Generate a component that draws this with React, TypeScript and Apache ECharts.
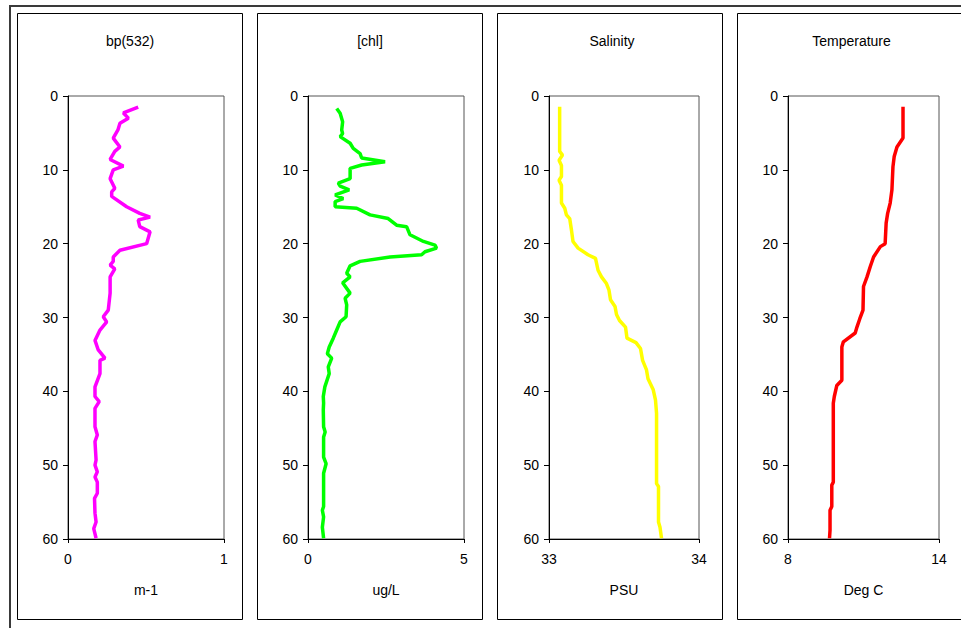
import React, { useEffect, useRef } from "react";
import * as echarts from "echarts";

// ---- data (value, depth in m) ----
const panelTitles = ["bp(532)", "[chl]", "Salinity", "Temperature"];
const unitNames = ["m-1", "ug/L", "PSU", "Deg C"];
const xMins = [0, 0, 33, 8];
const xMaxs = [1, 5, 34, 14];
const depthMin = 0;
const depthMax = 60;
const depthStep = 10;

const bpProfile = [
  [0.45, 1.5], [0.355, 2.3], [0.387, 3.0], [0.333, 3.7], [0.32, 4.6], [0.29, 5.7],
  [0.333, 6.9], [0.3, 7.5], [0.27, 8.6], [0.355, 9.5], [0.29, 10.0], [0.27, 11.2],
  [0.3, 12.5], [0.28, 13.0], [0.28, 13.6], [0.376, 15.0], [0.46, 15.9], [0.526, 16.4],
  [0.45, 16.8], [0.46, 17.7], [0.526, 18.4], [0.504, 20.0], [0.333, 20.9], [0.29, 21.8],
  [0.29, 22.4], [0.27, 22.9], [0.3, 23.4], [0.27, 24.5], [0.27, 26.7], [0.258, 29.0],
  [0.226, 29.9], [0.248, 30.6], [0.205, 31.7], [0.173, 33.1], [0.194, 34.4], [0.237, 35.5],
  [0.205, 35.8], [0.205, 37.6], [0.173, 39.4], [0.173, 40.7], [0.2, 41.4], [0.173, 42.3],
  [0.173, 44.8], [0.188, 45.9], [0.173, 46.8], [0.18, 49.3], [0.173, 50.0], [0.188, 50.9],
  [0.173, 51.6], [0.188, 52.3], [0.188, 53.8], [0.17, 54.5], [0.173, 56.5], [0.18, 57.7],
  [0.165, 58.6], [0.18, 59.9],
];

const chlProfile = [
  [0.92, 1.7], [1.03, 2.35], [1.11, 3.5], [1.08, 4.6], [1.11, 5.1], [1.03, 5.5],
  [1.35, 6.4], [1.45, 7.1], [1.67, 7.8], [1.72, 8.4], [2.47, 8.9], [1.72, 9.35],
  [1.35, 9.8], [1.35, 11.2], [0.97, 11.8], [1.03, 12.2], [1.32, 12.7], [0.87, 13.4],
  [1.13, 13.9], [0.87, 14.3], [0.87, 15.0], [1.56, 15.2], [1.99, 16.1], [2.57, 16.6],
  [2.84, 17.5], [3.16, 17.7], [3.27, 18.8], [3.7, 19.7], [4.07, 20.2], [4.12, 20.6],
  [3.75, 21.1], [3.64, 21.5], [2.63, 21.8], [1.67, 22.4], [1.35, 23.0], [1.24, 24.0],
  [1.35, 24.5], [1.11, 25.3], [1.35, 26.7], [1.19, 27.4], [1.24, 28.3], [1.22, 29.9],
  [1.03, 30.6], [0.92, 31.7], [0.81, 32.8], [0.68, 34.0], [0.62, 34.9], [0.76, 35.5],
  [0.65, 36.7], [0.68, 37.6], [0.54, 39.4], [0.49, 40.7], [0.5, 41.6], [0.49, 42.5],
  [0.5, 44.8], [0.55, 45.5], [0.5, 46.2], [0.5, 48.9], [0.58, 49.8], [0.5, 51.1],
  [0.5, 55.6], [0.46, 56.1], [0.5, 57.0], [0.46, 58.4], [0.5, 59.9],
];

const salinityProfile = [
  [33.071, 1.45], [33.071, 7.5], [33.09, 8.0], [33.067, 8.7], [33.083, 9.4], [33.083, 10.9],
  [33.067, 11.4], [33.083, 12.1], [33.083, 14.5], [33.105, 15.2], [33.116, 16.1], [33.138, 16.6],
  [33.15, 18.2], [33.16, 19.7], [33.194, 20.6], [33.26, 21.5], [33.31, 22.0], [33.327, 23.6],
  [33.35, 24.5], [33.383, 25.4], [33.4, 26.3], [33.41, 27.6], [33.44, 28.5], [33.45, 29.6],
  [33.47, 30.4], [33.51, 31.3], [33.52, 32.8], [33.58, 33.4], [33.61, 34.2], [33.624, 35.8],
  [33.65, 37.1], [33.66, 38.3], [33.695, 39.8], [33.71, 41.2], [33.717, 43.0], [33.717, 52.5],
  [33.73, 52.9], [33.73, 57.7], [33.74, 58.4], [33.75, 59.9],
];

const temperatureProfile = [
  [12.57, 1.45], [12.57, 5.7], [12.33, 6.9], [12.22, 8.2], [12.17, 9.6], [12.13, 12.7],
  [12.06, 14.5], [11.96, 15.9], [11.9, 17.2], [11.86, 20.0], [11.67, 20.4], [11.4, 21.8],
  [11.27, 23.1], [11.14, 24.5], [11.0, 25.8], [10.98, 29.0], [10.85, 30.2], [10.74, 31.3],
  [10.67, 32.1], [10.2, 33.3], [10.14, 34.0], [10.14, 38.5], [9.94, 39.2], [9.84, 40.7],
  [9.8, 41.6], [9.8, 52.3], [9.74, 52.7], [9.74, 55.6], [9.67, 56.1], [9.67, 58.8],
  [9.65, 59.9],
];

const profiles = [bpProfile, chlProfile, salinityProfile, temperatureProfile];

// ---- layout & styles ----
const FONT = "'Liberation Sans', Arial, sans-serif";
const lineColors = ["#FF00FF", "#00FF00", "#FFFF00", "#FF0000"];
const panelBoxes = [
  { x: 17.5, w: 225 },
  { x: 257.5, w: 225 },
  { x: 497.5, w: 225 },
  { x: 737.5, w: 226 },
];
const plotBoxes = [
  { left: 68, width: 156 },
  { left: 308, width: 156 },
  { left: 549, width: 150 },
  { left: 788, width: 151 },
];
const PLOT_TOP = 96;
const PLOT_H = 443;

export default function App() {
  const ref = useRef<HTMLDivElement>(null);

  useEffect(() => {
    if (!ref.current) return;
    const chart = echarts.init(ref.current, null, { renderer: "svg" });

    const grids = plotBoxes.map((p) => ({
      left: p.left,
      top: PLOT_TOP,
      width: p.width,
      height: PLOT_H,
      show: true,
      borderColor: "#555",
      borderWidth: 1,
      backgroundColor: "transparent",
      containLabel: false,
    }));

    const xAxes = plotBoxes.map((_, i) => ({
      type: "value",
      gridIndex: i,
      min: xMins[i],
      max: xMaxs[i],
      position: "bottom",
      name: unitNames[i],
      nameLocation: "middle",
      nameGap: 51,
      nameTextStyle: { fontFamily: FONT, fontSize: 14, color: "#000", verticalAlign: "middle" },
      axisLine: { show: true, onZero: false, lineStyle: { color: "#000", width: 1 } },
      axisTick: {
        show: true,
        inside: false,
        length: 4,
        customValues: [xMins[i], xMaxs[i]],
        lineStyle: { color: "#000" },
      },
      axisLabel: {
        show: true,
        customValues: [xMins[i], xMaxs[i]],
        fontFamily: FONT,
        fontSize: 14,
        color: "#000",
        margin: 13,
      },
      splitLine: { show: false },
    }));

    const yAxes = plotBoxes.map((_, i) => ({
      type: "value",
      gridIndex: i,
      min: depthMin,
      max: depthMax,
      interval: depthStep,
      inverse: true,
      axisLine: { show: true, onZero: false, lineStyle: { color: "#000", width: 1 } },
      axisTick: { show: true, inside: false, length: 5, lineStyle: { color: "#000" } },
      axisLabel: { fontFamily: FONT, fontSize: 14, color: "#000", margin: 10 },
      splitLine: { show: false },
    }));

    const series = profiles.map((data, i) => ({
      type: "line",
      xAxisIndex: i,
      yAxisIndex: i,
      data,
      symbol: "none",
      smooth: false,
      lineStyle: { color: lineColors[i], width: 3.5 },
      itemStyle: { color: lineColors[i] },
      clip: true,
    }));

    const graphics: any[] = [
      {
        type: "rect",
        shape: { x: 10, y: 6, width: 1000, height: 700 },
        style: { fill: "none", stroke: "#3a3a3a", lineWidth: 2 },
        silent: true,
        z: -10,
      },
    ];
    panelBoxes.forEach((b, i) => {
      graphics.push({
        type: "rect",
        shape: { x: b.x, y: 13.5, width: b.w, height: 606 },
        style: { fill: "none", stroke: "#000", lineWidth: 1 },
        silent: true,
        z: -9,
      });
      graphics.push({
        type: "text",
        x: plotBoxes[i].left + plotBoxes[i].width / 2 - (i === 0 ? 16 : i === 1 ? 16 : 12),
        y: 41,
        style: {
          text: panelTitles[i],
          fontFamily: FONT,
          fontSize: 14,
          fill: "#000",
          align: "center",
          verticalAlign: "middle",
        },
        silent: true,
      });
    });

    chart.setOption({
      animation: false,
      backgroundColor: "#fff",
      grid: grids,
      xAxis: xAxes,
      yAxis: yAxes,
      series,
      graphic: graphics,
    });

    return () => chart.dispose();
  }, []);

  return (
    <div
      ref={ref}
      style={{ position: "absolute", left: 0, top: 0, width: 961, height: 628, background: "#fff" }}
    />
  );
}
